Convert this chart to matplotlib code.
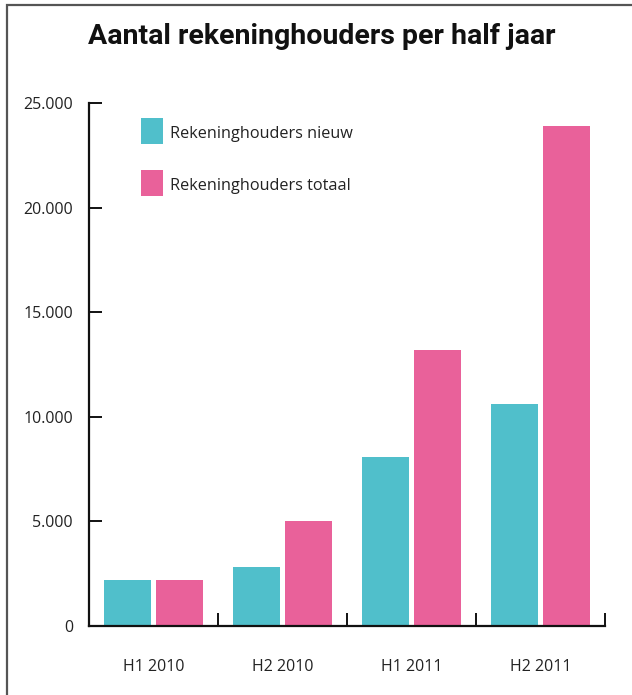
import matplotlib
matplotlib.use("Agg")
import matplotlib.pyplot as plt
from matplotlib.patches import Rectangle
from matplotlib.ticker import FixedLocator, FuncFormatter
import numpy as np

categories = ["H1 2010", "H2 2010", "H1 2011", "H2 2011"]
nieuw = [2200, 2800, 8100, 10600]
totaal = [2200, 5000, 13200, 23900]
series_labels = ["Rekeninghouders nieuw", "Rekeninghouders totaal"]
yticks = [0, 5000, 10000, 15000, 20000, 25000]
title = "Aantal rekeninghouders per half jaar"

c_nieuw = "#50BFCB"
c_totaal = "#E9619A"
txt = "#222222"

plt.rcParams['font.family'] = ['Open Sans', 'DejaVu Sans']

W, H = 632, 695
fig = plt.figure(figsize=(W / 100, H / 100), dpi=100)
ax = fig.add_axes([89 / W, 1 - 626 / H, (605 - 89) / W, (626 - 103.3) / H])

x = np.arange(len(categories))
bw = 0.364
off = 0.198
ax.bar(x - off, nieuw, width=bw, color=c_nieuw, label=series_labels[0])
ax.bar(x + off, totaal, width=bw, color=c_totaal, label=series_labels[1])

ax.set_xlim(-0.5, len(categories) - 0.5)
ax.set_ylim(0, 25000)

for s in ["top", "right"]:
    ax.spines[s].set_visible(False)
for s in ["left", "bottom"]:
    ax.spines[s].set_linewidth(1.6)
    ax.spines[s].set_color("#111111")
    ax.spines[s].set_capstyle("projecting")

ax.set_yticks(yticks)
ax.yaxis.set_major_formatter(FuncFormatter(lambda v, p: f"{int(v):,}".replace(",", ".")))
ax.tick_params(axis="y", direction="in", length=9, width=1.4, color="#111111",
               pad=11.5, labelsize=11.5, labelcolor=txt)

ax.set_xticks(x)
ax.set_xticklabels(categories)
ax.tick_params(axis="x", which="major", length=0, pad=24, labelsize=11.5, labelcolor=txt)
ax.xaxis.set_minor_locator(FixedLocator(np.arange(0.5, len(categories), 1.0)))
ax.tick_params(axis="x", which="minor", direction="in", length=9.5, width=1.4, color="#111111")

fig.text(322 / W, 1 - 36 / H, title, ha="center", va="center", fontsize=20.5,
         fontweight="bold", family=["Roboto", "DejaVu Sans"], color="#111111")

# legend (manual, pixel-placed)
leg_colors = [c_nieuw, c_totaal]
for i, (lab, col) in enumerate(zip(series_labels, leg_colors)):
    top = 118 + i * 52
    fig.add_artist(Rectangle((141 / W, 1 - (top + 26) / H), 22 / W, 26 / H,
                             transform=fig.transFigure, facecolor=col, edgecolor="none"))
    fig.text(170 / W, 1 - (top + 16) / H, lab, ha="left", va="center",
             fontsize=11.7, color=txt)

fig.add_artist(Rectangle((6.5 / W, -0.05), 1.2, 1.05 - 5 / H, transform=fig.transFigure,
                         fill=False, edgecolor="#555555", linewidth=1.6))

fig.savefig("out.png", dpi=100)
